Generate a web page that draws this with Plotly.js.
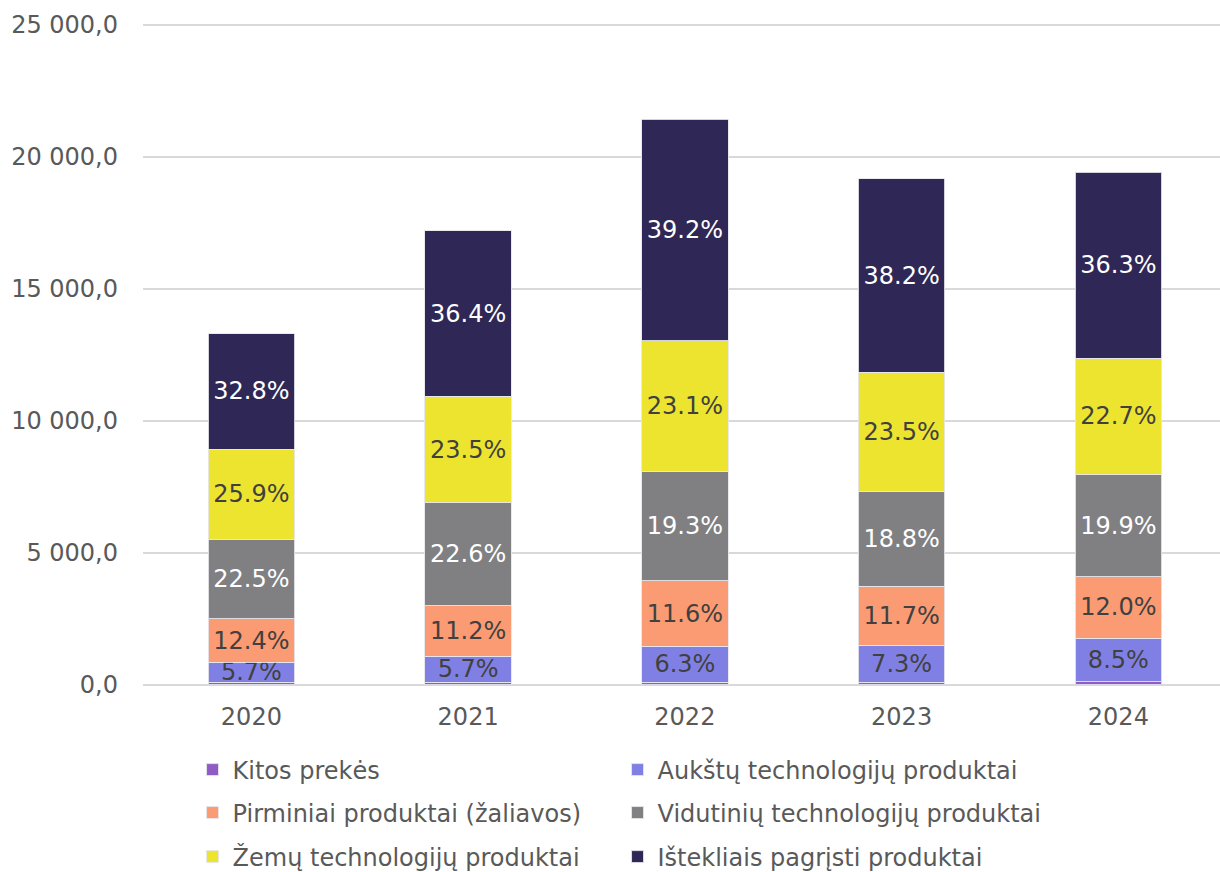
<!DOCTYPE html>
<html>
<head>
<meta charset="utf-8">
<script src="https://cdn.plot.ly/plotly-3.0.1.min.js"></script>
<style>html,body{margin:0;padding:0;background:#fff;}#chart{width:1220px;height:872px;}</style>
</head>
<body>
<div id="chart"></div>
<script>
const years = ['2020', '2021', '2022', '2023', '2024'];
const kitos = [93, 103, 107, 96, 117];
const aukstu = [758, 980, 1351, 1399, 1652];
const pirminiai = [1649, 1926, 2487, 2243, 2332];
const vidutiniu = [2993, 3887, 4138, 3604, 3867];
const zemu = [3445, 4042, 4953, 4505, 4411];
const istekliais = [4362, 6261, 8404, 7323, 7053];

const seriesNames = [
  'Kitos prekės',
  'Aukštų technologijų produktai',
  'Pirminiai produktai (žaliavos)',
  'Vidutinių technologijų produktai',
  'Žemų technologijų produktai',
  'Ištekliais pagrįsti produktai'
];
const seriesData = [kitos, aukstu, pirminiai, vidutiniu, zemu, istekliais];
const colors = ['#8e5cc4', '#8080e4', '#fb9b73', '#808083', '#ede430', '#2f2856'];
const textColors = ['#404040', '#404040', '#404040', '#ffffff', '#404040', '#ffffff'];
const showLabel = [false, true, true, true, true, true];
const legendIds = ['legend', 'legend', 'legend2', 'legend2', 'legend3', 'legend3'];

const totals = years.map((_, i) => seriesData.reduce((s, arr) => s + arr[i], 0));
const FONT = 'DejaVu Sans, Verdana, sans-serif';
const FS = 24;

const traces = seriesData.map((vals, k) => ({
  type: 'bar',
  name: seriesNames[k],
  x: years,
  y: vals,
  legend: legendIds[k],
  marker: {color: colors[k], line: {color: 'rgba(230,230,235,0.9)', width: 1}},
  text: showLabel[k] ? vals.map((v, i) => (v / totals[i] * 100).toFixed(1) + '%') : vals.map(() => ''),
  textposition: 'inside',
  insidetextanchor: 'middle',
  textangle: 0,
  constraintext: 'none',
  textfont: {family: FONT, size: FS, color: textColors[k]},
  hoverinfo: 'x+y+name'
}));

const legendBase = {
  orientation: 'h',
  entrywidth: 380,
  entrywidthmode: 'pixels',
  xanchor: 'left',
  yanchor: 'middle',
  x: 0.046,
  font: {family: FONT, size: FS, color: '#595959'},
  bgcolor: 'rgba(0,0,0,0)',
  traceorder: 'normal'
};

const layout = {
  width: 1220,
  height: 872,
  margin: {l: 143, r: 0, t: 24, b: 186, pad: 0, autoexpand: false},
  paper_bgcolor: '#ffffff',
  plot_bgcolor: '#ffffff',
  barmode: 'stack',
  bargap: 0.6,
  separators: ', ',
  font: {family: FONT, size: FS, color: '#595959'},
  xaxis: {
    type: 'category',
    range: [-0.5, 4.469],
    showgrid: false,
    showline: false,
    zeroline: false,
    ticks: '',
    ticklabelstandoff: 14,
    tickfont: {family: FONT, size: FS, color: '#595959'}
  },
  yaxis: {
    range: [-40, 25040],
    tickvals: [0, 5000, 10000, 15000, 20000, 25000],
    tickformat: ',.1f',
    showgrid: true,
    gridcolor: '#d9d9d9',
    gridwidth: 1.5,
    zeroline: true,
    zerolinecolor: '#d9d9d9',
    zerolinewidth: 2,
    showline: false,
    ticks: '',
    ticklabelstandoff: 24,
    tickfont: {family: FONT, size: FS, color: '#595959'}
  },
  legend: Object.assign({}, legendBase, {y: -0.1269}),
  legend2: Object.assign({}, legendBase, {y: -0.1918}),
  legend3: Object.assign({}, legendBase, {y: -0.2583}),
  showlegend: true
};

Plotly.newPlot('chart', traces, layout, {displayModeBar: false, responsive: false});
</script>
</body>
</html>
